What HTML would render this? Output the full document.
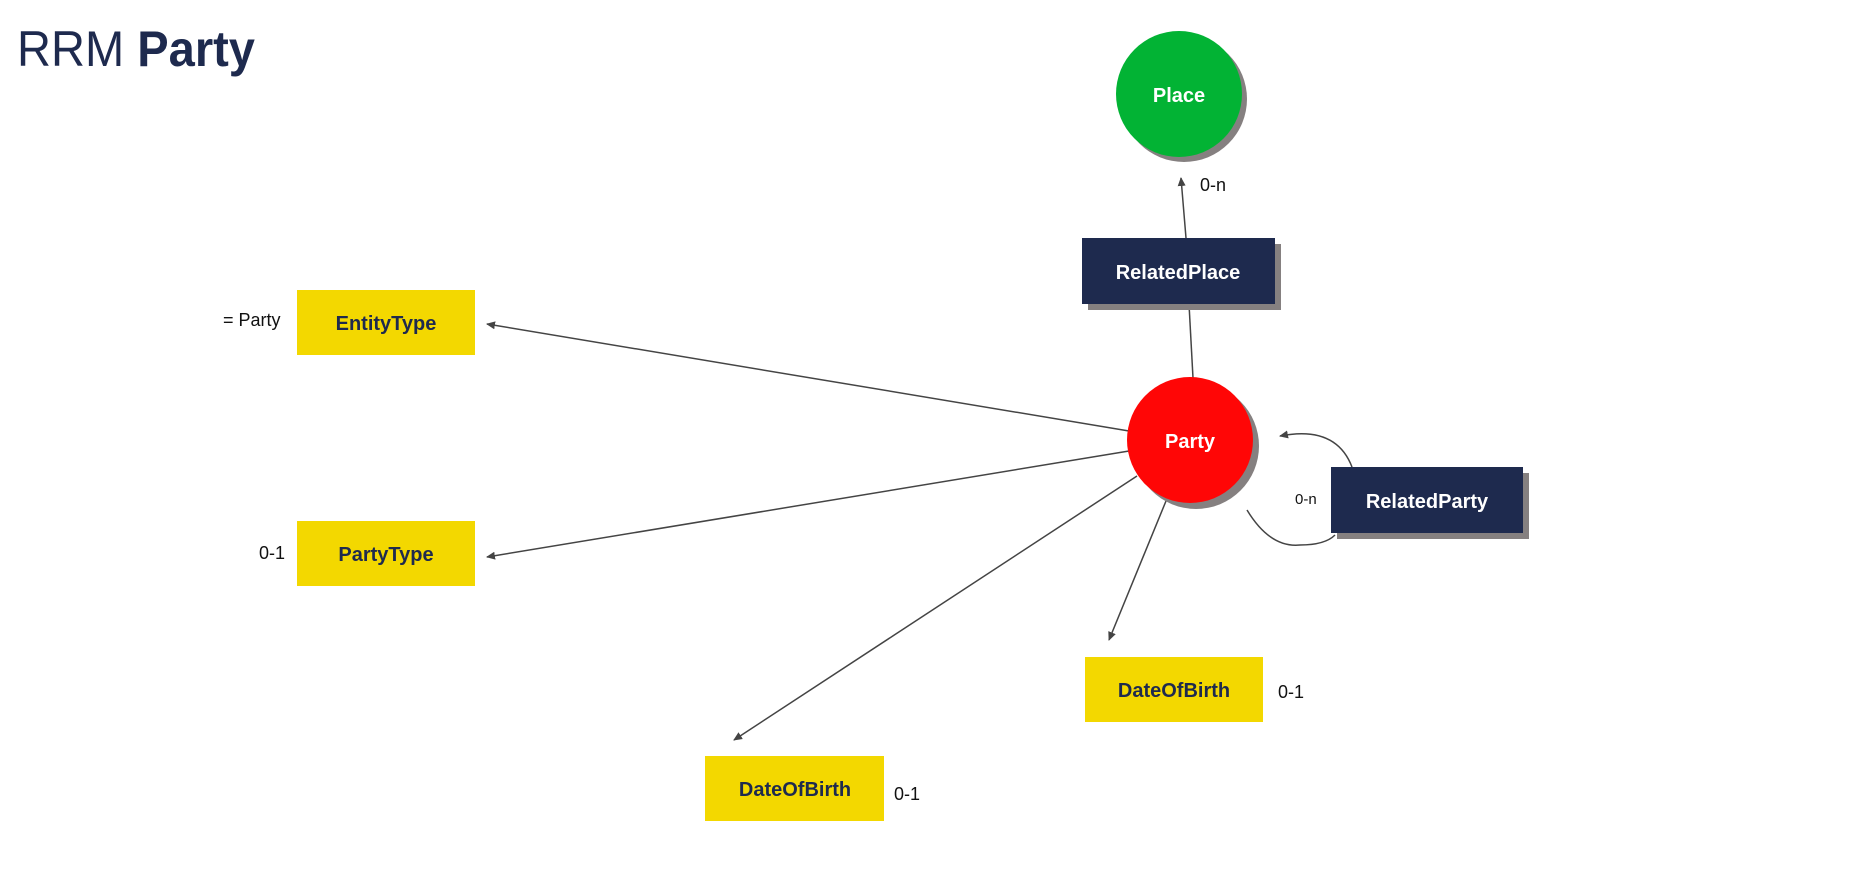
<!DOCTYPE html>
<html><head><meta charset="utf-8"><style>
html,body{margin:0;padding:0;background:#fff;width:1850px;height:883px;overflow:hidden}
svg{display:block}
</style></head><body>
<svg width="1850" height="883" viewBox="0 0 1850 883" xmlns="http://www.w3.org/2000/svg" font-family="Liberation Sans, sans-serif">
<defs>
<marker id="ar" markerWidth="10" markerHeight="10" refX="8" refY="5" orient="auto" markerUnits="userSpaceOnUse">
<path d="M0,1 L9,5 L0,9 Z" fill="#444"/>
</marker>
</defs>
<text x="17" y="66" font-size="50" fill="#1e2a4e" textLength="238" lengthAdjust="spacingAndGlyphs">RRM <tspan font-weight="bold">Party</tspan></text>

<g stroke="#444" stroke-width="1.5" fill="none">
<line x1="1186" y1="238" x2="1181" y2="178" marker-end="url(#ar)"/>
<line x1="1193" y1="378" x2="1189" y2="304"/>
<line x1="1129" y1="431" x2="487" y2="324" marker-end="url(#ar)"/>
<line x1="1129" y1="451" x2="487" y2="557" marker-end="url(#ar)"/>
<line x1="1137" y1="476" x2="734" y2="740" marker-end="url(#ar)"/>
<line x1="1166" y1="501" x2="1109" y2="640" marker-end="url(#ar)"/>
<path d="M1352,467 Q1336,425 1280,436" marker-end="url(#ar)"/>
<path d="M1247,510 Q1270,548 1300,545 Q1325,545 1335,535"/>
</g>

<!-- Place -->
<circle cx="1184" cy="99" r="63" fill="#858080"/>
<circle cx="1179" cy="94" r="63" fill="#02b334"/>
<text x="1179" y="102" font-size="20" font-weight="bold" fill="#fff" text-anchor="middle">Place</text>

<!-- Party -->
<circle cx="1196" cy="446" r="63" fill="#858080"/>
<circle cx="1190" cy="440" r="63" fill="#ff0606"/>
<text x="1190" y="448" font-size="20" font-weight="bold" fill="#fff" text-anchor="middle">Party</text>

<!-- RelatedPlace -->
<rect x="1088" y="244" width="193" height="66" fill="#858080"/>
<rect x="1082" y="238" width="193" height="66" fill="#1e2a4e"/>
<text x="1178" y="279" font-size="20" font-weight="bold" fill="#fff" text-anchor="middle">RelatedPlace</text>

<!-- RelatedParty -->
<rect x="1337" y="473" width="192" height="66" fill="#858080"/>
<rect x="1331" y="467" width="192" height="66" fill="#1e2a4e"/>
<text x="1427" y="508" font-size="20" font-weight="bold" fill="#fff" text-anchor="middle">RelatedParty</text>

<!-- yellow boxes -->
<g fill="#f3d800">
<rect x="297" y="290" width="178" height="65"/>
<rect x="297" y="521" width="178" height="65"/>
<rect x="1085" y="657" width="178" height="65"/>
<rect x="705" y="756" width="179" height="65"/>
</g>
<g font-size="20" font-weight="bold" fill="#1e2a4e" text-anchor="middle">
<text x="386" y="330">EntityType</text>
<text x="386" y="561">PartyType</text>
<text x="1174" y="697">DateOfBirth</text>
<text x="795" y="796">DateOfBirth</text>
</g>

<g font-size="18" fill="#111">
<text x="223" y="326">= Party</text>
<text x="259" y="559">0-1</text>
<text x="1200" y="191">0-n</text>
<text x="1278" y="698">0-1</text>
<text x="894" y="800">0-1</text>
<text x="1295" y="504" font-size="15">0-n</text>
</g>
</svg>
</body></html>
